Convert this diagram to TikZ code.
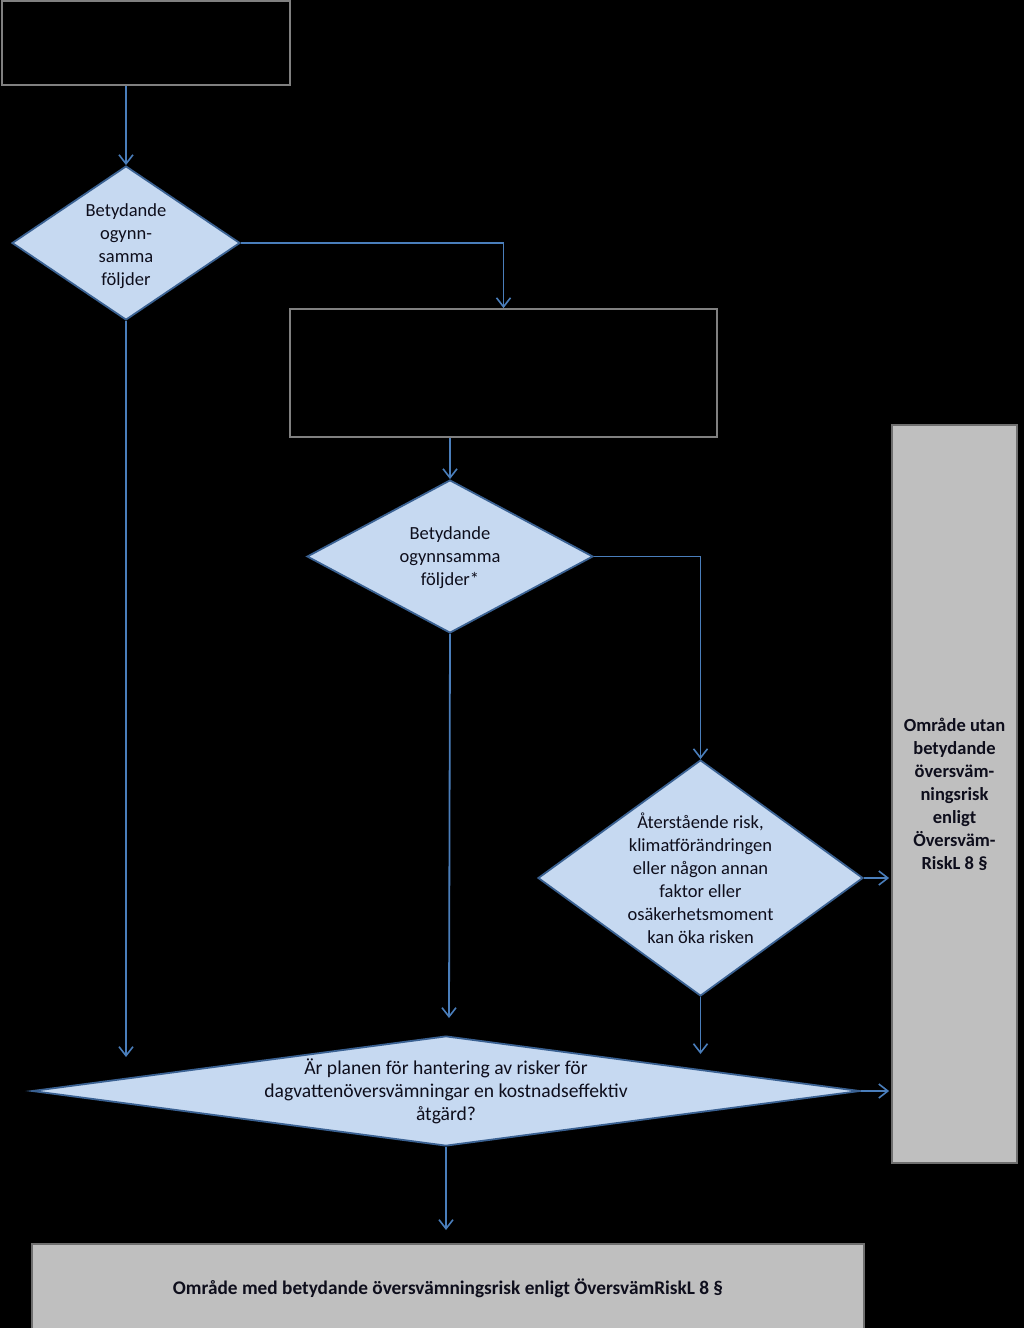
\documentclass[tikz,border=0pt]{standalone}
\usepackage{fontspec}
\setmainfont{Carlito}
\usetikzlibrary{shapes.geometric,arrows.meta,positioning}
\definecolor{diafill}{HTML}{C6D9F1}
\definecolor{diaedge}{HTML}{3A6192}
\definecolor{flowblue}{HTML}{4A7EBB}
\definecolor{boxedge}{HTML}{808080}
\definecolor{endfill}{HTML}{BFBFBF}
\definecolor{endedge}{HTML}{6F6F6F}
\definecolor{inktext}{HTML}{0E0E1C}
\tikzset{
  emptybox/.style={draw=boxedge,line width=1.8pt,fill=black,rectangle},
  endbox/.style={draw=endedge,line width=1.8pt,fill=endfill,rectangle,
    text=inktext,font=\bfseries\fontsize{18.5}{23}\selectfont,align=center},
  question/.style={draw=diaedge,line width=1.8pt,fill=diafill,diamond,inner sep=0pt},
  qtext/.style={text=inktext,font=\fontsize{18.5}{23}\selectfont,align=center},
  flow/.style={draw=flowblue,line width=1.8pt,
    -{Straight Barb[length=9pt,width=14pt,line width=1.6pt]}}
}
\begin{document}
\begin{tikzpicture}[x=1pt,y=-1pt]
\useasboundingbox (0,0) rectangle (1024,1328);
\fill[black] (0,0) rectangle (1024,1328);

% boxes
\node[emptybox,minimum width=288pt,minimum height=84pt] (start) at (146,43) {};
\node[emptybox,minimum width=427pt,minimum height=128pt] (screen) at (503.5,373) {};
\node[endbox,minimum width=125pt,minimum height=738pt] (without) at (954.5,794)
  {Område utan\\betydande\\översväm-\\ningsrisk\\enligt\\Översväm-\\RiskL 8 §};
\node[endbox,minimum width=832pt,minimum height=88pt,font=\bfseries\fontsize{19.3}{23}\selectfont] (with) at (448,1288)
  {Område med betydande översvämningsrisk enligt ÖversvämRiskL 8 §};

% questions
\node[question,minimum width=228pt,minimum height=154pt] (q1) at (126,243) {};
\node[qtext] at ([yshift=-3pt]q1.center) {Betydande\\ogynn-\\samma\\följder};
\node[question,minimum width=286pt,minimum height=153pt] (q2) at (450,556.5) {};
\node[qtext] at ([yshift=-1pt]q2.center) {Betydande\\ogynnsamma\\följder*};
\node[question,minimum width=325pt,minimum height=236pt] (q3) at (700.5,878) {};
\node[qtext] at (q3.center) {Återstående risk,\\klimatförändringen\\eller någon annan\\faktor eller\\osäkerhetsmoment\\kan öka risken};
\node[question,minimum width=828pt,minimum height=110pt] (q4) at (446,1091) {};
\node[qtext,font=\fontsize{19.6}{23}\selectfont] at (q4.center) {Är planen för hantering av risker för\\dagvattenöversvämningar en kostnadseffektiv\\åtgärd?};

% free ends
\coordinate (e1) at (126,1057);
\coordinate (e2) at (449,1018);
\coordinate (e3) at (700.5,1054);
\coordinate (e4) at (446,1230);

% connectors
\draw[flow] (q1.north |- start.south) -- (q1.north);
\draw[flow] (q1.east) -| (screen.north);
\draw[flow] (q1.south) -- (e1);
\draw[flow] (q2.north |- screen.south) -- (q2.north);
\draw[flow] (q2.south) -- (e2);
\draw[flow] (q2.east) -| (q3.north);
\draw[flow,shorten >=2pt] (q3.east) -- (q3.east -| without.west);
\draw[flow] (q3.south) -- (e3);
\draw[flow,shorten >=2pt] (q4.east) -- (q4.east -| without.west);
\draw[flow] (q4.south) -- (e4);
\end{tikzpicture}
\end{document}
